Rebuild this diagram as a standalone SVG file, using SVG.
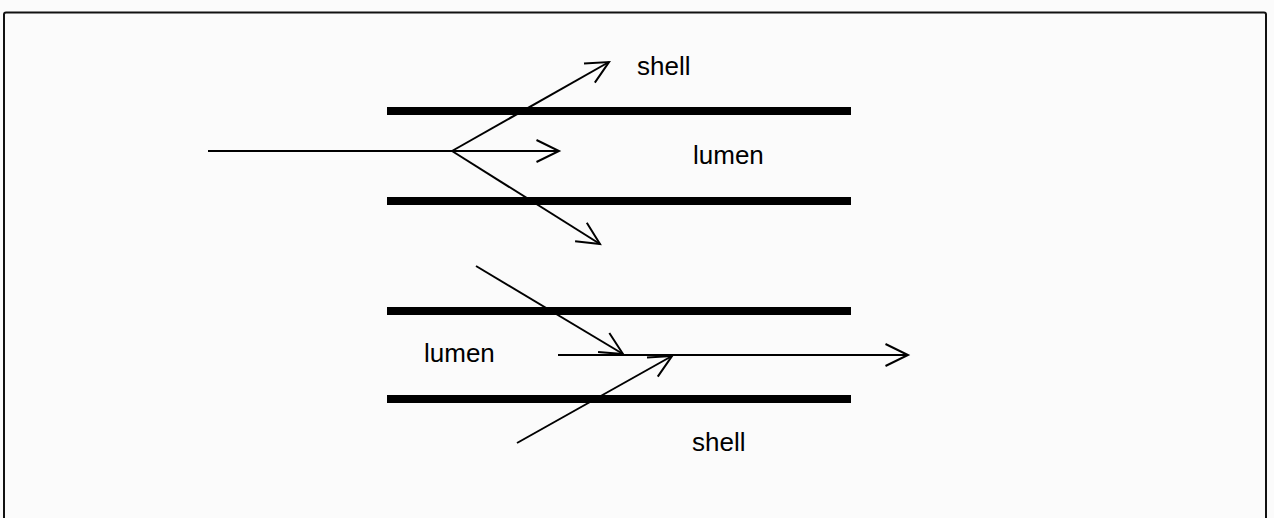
<svg xmlns="http://www.w3.org/2000/svg" width="1274" height="518" viewBox="0 0 1274 518">
  <style>
    .wall { stroke: #000; stroke-width: 8; fill: none; }
    .flow { stroke: #000; stroke-width: 2; fill: none; }
    .lbl { font-family: "Liberation Sans", Arial, sans-serif; font-size: 26px; fill: #000; }
  </style>
  <defs>
    <marker id="open" markerUnits="userSpaceOnUse" viewBox="-26 -14 28 28" markerWidth="28" markerHeight="28" refX="0" refY="0" orient="auto" overflow="visible">
      <path d="M-22.5,-11 L0,0 L-22.5,11" fill="none" stroke="#000" stroke-width="2"/>
    </marker>
  </defs>
  <rect x="0" y="0" width="1274" height="518" fill="#fbfbfb"/>
  <rect id="frame" x="4" y="12.5" width="1262" height="530" rx="2" fill="none" stroke="#111" stroke-width="2"/>

  <g id="tube-top">
    <line class="wall" x1="387" y1="111" x2="851" y2="111"/>
    <line class="wall" x1="387" y1="201" x2="851" y2="201"/>
  </g>
  <g id="tube-bottom">
    <line class="wall" x1="387" y1="311" x2="851" y2="311"/>
    <line class="wall" x1="387" y1="399" x2="851" y2="399"/>
  </g>

  <g id="connectors">
    <line class="flow" x1="208" y1="151" x2="559" y2="151" marker-end="url(#open)"/>
    <line class="flow" x1="452" y1="151" x2="609" y2="62" marker-end="url(#open)"/>
    <line class="flow" x1="452" y1="151" x2="600" y2="244" marker-end="url(#open)"/>
    <line class="flow" x1="558" y1="355" x2="908" y2="355" marker-end="url(#open)"/>
    <line class="flow" x1="476" y1="266" x2="623" y2="354" marker-end="url(#open)"/>
    <line class="flow" x1="517" y1="443" x2="672" y2="356" marker-end="url(#open)"/>
  </g>

  <g id="label-shell-top"><text class="lbl" x="637" y="75">shell</text></g>
  <g id="label-lumen-top"><text class="lbl" x="693" y="164">lumen</text></g>
  <g id="label-lumen-bottom"><text class="lbl" x="424" y="362">lumen</text></g>
  <g id="label-shell-bottom"><text class="lbl" x="692" y="451">shell</text></g>
</svg>
